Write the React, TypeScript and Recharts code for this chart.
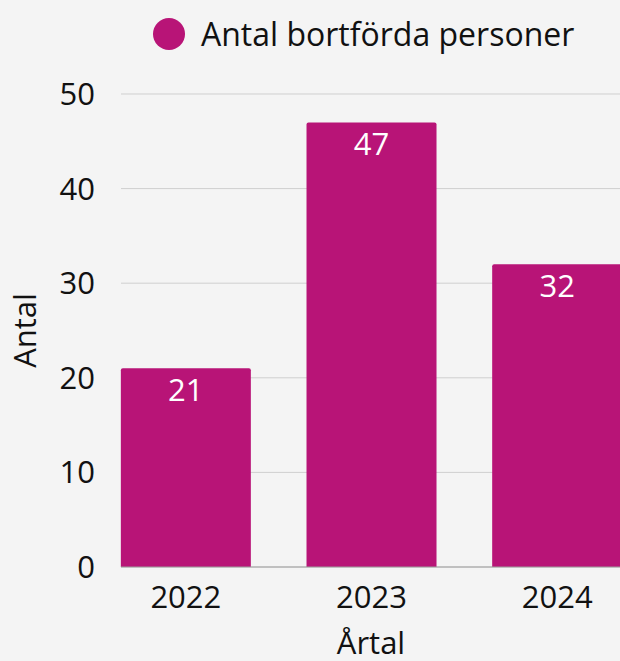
import React from 'react';
import { BarChart, Bar, XAxis, YAxis, CartesianGrid, Legend, LabelList } from 'recharts';

const years = ['2022', '2023', '2024'];
const removed = [21, 47, 32];
const yTicks = [0, 10, 20, 30, 40, 50];

const seriesName = 'Antal bortförda personer';
const barColor = '#b81477';
const font = '"Open Sans", "Noto Sans", sans-serif';

const data = years.map((year, i) => ({ year, removed: removed[i] }));

const LegendBox = () => (
  <div style={{ display: 'flex', alignItems: 'center', paddingLeft: 153, paddingTop: 16, fontFamily: font }}>
    <span style={{ width: 32, height: 32, borderRadius: '50%', background: barColor, display: 'inline-block' }} />
    <span style={{ marginLeft: 16, fontSize: 32, color: '#111', lineHeight: '36px' }}>{seriesName}</span>
  </div>
);

const YLabel = (props: any) => {
  const vb = props.viewBox || {};
  const cy = vb.y + vb.height / 2;
  return (
    <text x={36} y={cy} transform={`rotate(-90 36 ${cy})`} textAnchor="middle" fontSize={31} fill="#111" fontFamily={font}>
      Antal
    </text>
  );
};

const XLabel = (props: any) => {
  const vb = props.viewBox || {};
  return (
    <text x={371} y={vb.y + 87} textAnchor="middle" fontSize={31} fill="#111" fontFamily={font}>
      Årtal
    </text>
  );
};

const App: React.FC = () => {
  return (
    <div style={{ position: 'fixed', left: 0, top: 0, width: 620, height: 661, overflow: 'hidden', background: '#f4f4f4' }}>
      <BarChart width={650} height={661} data={data} margin={{ top: 0, right: 0, bottom: 0, left: 0 }} barCategoryGap="15%">
        <CartesianGrid vertical={false} stroke="#cfcfcf" />
        <Legend verticalAlign="top" height={94} content={<LegendBox />} wrapperStyle={{ left: 0, top: 0, width: 620 }} />
        <XAxis
          dataKey="year"
          padding={{ left: -28, right: 0 }}
          tickLine={false}
          tickSize={0}
          tickMargin={19}
          axisLine={{ stroke: '#9e9e9e' }}
          height={94}
          tick={{ fontSize: 31, fill: '#111', fontFamily: font }}
          label={<XLabel />}
        />
        <YAxis
          width={121}
          domain={[0, 50]}
          ticks={yTicks}
          tickLine={false}
          tickSize={0}
          tickMargin={26}
          axisLine={false}
          tick={{ fontSize: 31, fill: '#111', fontFamily: font }}
          label={<YLabel />}
        />
        <Bar dataKey="removed" name={seriesName} fill={barColor} radius={[2, 2, 0, 0]} isAnimationActive={false}>
          <LabelList dataKey="removed" position="insideTop" offset={11} fill="#ffffff" fontSize={31} fontFamily={font} />
        </Bar>
      </BarChart>
    </div>
  );
};

export default App;
